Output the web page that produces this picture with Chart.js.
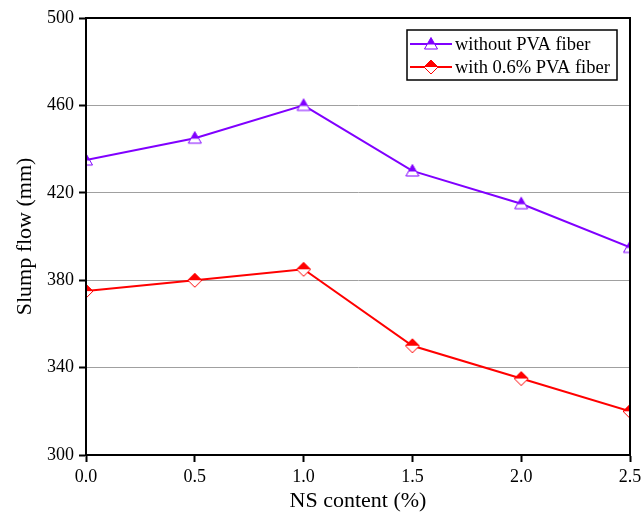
<!DOCTYPE html>
<html>
<head>
<meta charset="utf-8">
<script src="https://cdn.jsdelivr.net/npm/chart.js@4"></script>
<style>
  html, body { margin: 0; padding: 0; background: #fff; }
  #wrap { width: 642px; height: 518px; }
</style>
</head>
<body>
<div id="wrap"><canvas id="chart" width="642" height="518"></canvas></div>
<script>
const nsContent = [0.0, 0.5, 1.0, 1.5, 2.0, 2.5]
const withoutPva = [435, 445, 460, 430, 415, 395]
const withPva = [375, 380, 385, 350, 335, 320]
const yTicks = [300, 340, 380, 420, 460, 500]
const seriesNames = ['without PVA fiber', 'with 0.6% PVA fiber']
const purple = '#8000ff'
const red = '#ff0000'

// half filled markers: top half solid, bottom half open
function halfMarker(shape, color) {
    const c = document.createElement('canvas')
    c.width = 16
    c.height = 16
    const g = c.getContext('2d')
    const path = new Path2D()
    if (shape === 'triangle') {
        path.moveTo(8, 1.5); path.lineTo(14.5, 13); path.lineTo(1.5, 13); path.closePath()
    } else {
        path.moveTo(8, 1); path.lineTo(15, 8); path.lineTo(8, 15); path.lineTo(1, 8); path.closePath()
    }
    g.fillStyle = '#fff'
    g.fill(path)
    g.save()
    g.beginPath()
    g.rect(0, 0, 16, shape === 'triangle' ? 8.5 : 8)
    g.clip()
    g.fillStyle = color
    g.fill(path)
    g.restore()
    g.strokeStyle = color
    g.lineWidth = 1
    g.stroke(path)
    return c
}

const triMarker = halfMarker('triangle', purple)
const diaMarker = halfMarker('diamond', red)

const framePlugin = {
    id: 'frame',
    afterDraw(chart) {
        const { ctx, chartArea: a } = chart
        ctx.save()
        ctx.strokeStyle = '#000'
        ctx.lineWidth = 2
        ctx.strokeRect(a.left, a.top, a.right - a.left, a.bottom - a.top)
        // legend
        const lx = 407, ly = 30, lw = 210, lh = 50
        ctx.fillStyle = '#fff'
        ctx.fillRect(lx, ly, lw, lh)
        ctx.lineWidth = 1.5
        ctx.strokeRect(lx, ly, lw, lh)
        const rows = [[purple, triMarker], [red, diaMarker]]
        ctx.font = '18.5px "Liberation Serif"'
        ctx.textBaseline = 'middle'
        rows.forEach(([col, mk], i) => {
            const y = ly + 14 + i * 23
            ctx.strokeStyle = col
            ctx.lineWidth = 2
            ctx.beginPath()
            ctx.moveTo(lx + 3, y)
            ctx.lineTo(lx + 45, y)
            ctx.stroke()
            ctx.drawImage(mk, lx + 24 - 8, y - 8)
            ctx.fillStyle = '#000'
            ctx.fillText(seriesNames[i], lx + 48, y + 1)
        })
        ctx.restore()
    }
}

new Chart(document.getElementById('chart'), {
    type: 'line',
    data: {
        labels: nsContent,
        datasets: [
            {
                label: seriesNames[0],
                data: nsContent.map((x, i) => ({ x: x, y: withoutPva[i] })),
                borderColor: purple,
                backgroundColor: purple,
                borderWidth: 2,
                pointStyle: triMarker,
                tension: 0
            },
            {
                label: seriesNames[1],
                data: nsContent.map((x, i) => ({ x: x, y: withPva[i] })),
                borderColor: red,
                backgroundColor: red,
                borderWidth: 2,
                pointStyle: diaMarker,
                tension: 0
            }
        ]
    },
    options: {
        responsive: false,
        animation: false,
        layout: { autoPadding: false, padding: { top: 18, right: 12, left: 8, bottom: 0 } },
        plugins: {
            legend: { display: false },
            tooltip: { enabled: false }
        },
        scales: {
            x: {
                type: 'linear',
                min: 0,
                max: 2.5,
                afterFit: s => {
                    s.height = 63
                    s.paddingLeft = 0
                    s.paddingRight = 0
                },
                ticks: {
                    stepSize: 0.5,
                    color: '#000',
                    padding: 4,
                    font: { family: '"Liberation Serif"', size: 18 },
                    callback: v => v.toFixed(1)
                },
                grid: { color: 'transparent', tickColor: '#000', tickLength: 7, tickWidth: 2 },
                border: { display: true, color: '#000', width: 2 },
                title: {
                    display: true,
                    text: 'NS content (%)',
                    color: '#000',
                    font: { family: '"Liberation Serif"', size: 22 },
                    padding: { top: 0 }
                }
            },
            y: {
                min: 300,
                max: 500,
                afterFit: s => {
                    s.width = 78
                    s.paddingTop = 0
                    s.paddingBottom = 0
                },
                afterBuildTicks: s => { s.ticks = yTicks.map(v => ({ value: v })) },
                ticks: {
                    color: '#000',
                    padding: 5,
                    font: { family: '"Liberation Serif"', size: 18 }
                },
                grid: {
                    color: c => (c.tick && (c.tick.value === 300 || c.tick.value === 500)) ? 'transparent' : '#a0a0a0',
                    tickColor: '#000',
                    tickLength: 7,
                    tickWidth: 2
                },
                border: { display: true, color: '#000', width: 2 },
                title: {
                    display: true,
                    text: 'Slump flow (mm)',
                    color: '#000',
                    font: { family: '"Liberation Serif"', size: 22 },
                    padding: { bottom: 4 }
                }
            }
        }
    },
    plugins: [framePlugin]
})
</script>
</body>
</html>
